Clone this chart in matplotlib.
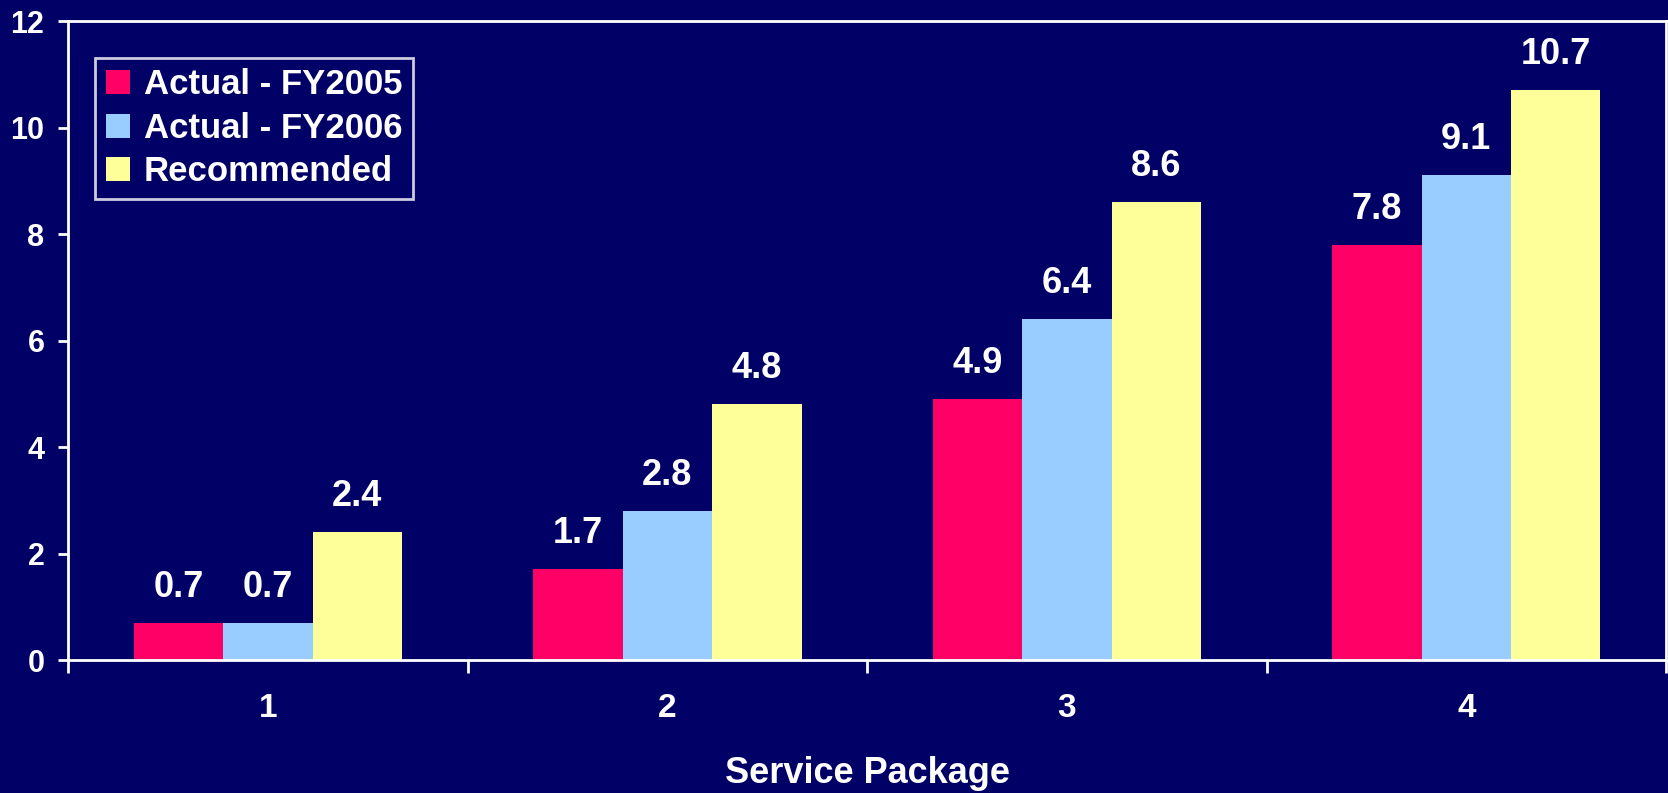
import matplotlib

matplotlib.use("Agg")

import matplotlib.pyplot as plt
import numpy as np

# data
packages = ["1", "2", "3", "4"]
series_names = ["Actual - FY2005", "Actual - FY2006", "Recommended"]
fy2005 = [0.7, 1.7, 4.9, 7.8]
fy2006 = [0.7, 2.8, 6.4, 9.1]
recommended = [2.4, 4.8, 8.6, 10.7]
y_ticks = [0, 2, 4, 6, 8, 10, 12]

NAVY = "#000066"
colors = ["#FF0066", "#99CCFF", "#FFFF99"]

plt.rcParams["font.family"] = ["Liberation Sans", "DejaVu Sans"]
plt.rcParams["font.weight"] = "bold"

fig = plt.figure(figsize=(16.68, 7.93), dpi=100, facecolor=NAVY)
ax = fig.add_axes([0.0408, 0.1677, 0.958, 0.8058], facecolor=NAVY)

x = np.arange(1, len(packages) + 1)
width = 0.224
for i, (vals, name, col) in enumerate(zip([fy2005, fy2006, recommended], series_names, colors)):
    pos = x + (i - 1) * width
    ax.bar(pos, vals, width, color=col, label=name, linewidth=0)
    for px, v in zip(pos, vals):
        ax.annotate(f"{v}", (px, v), textcoords="offset points", xytext=(0, 13),
                    ha="center", va="bottom", color="white", fontsize=26, fontweight="bold")

ax.set_xlim(0.5, 4.5)
ax.set_ylim(0, 12)
ax.set_yticks(y_ticks)
ax.set_xticks(x)
ax.set_xticklabels(packages)
ax.set_xticks(np.arange(0.5, 4.6, 1.0), minor=True)

ax.tick_params(axis="y", colors="white", labelsize=22, length=7, width=2, pad=10)
ax.tick_params(axis="x", which="major", colors="white", labelsize=24, length=0, pad=24)
ax.tick_params(axis="x", which="minor", colors="white", length=9, width=2)
for lab in ax.get_xticklabels() + ax.get_yticklabels():
    lab.set_fontweight("bold")

for s in ax.spines.values():
    s.set_color("white")
    s.set_linewidth(2)

ax.set_xlabel("Service Package", color="white", fontsize=26, fontweight="bold", va="center")
ax.xaxis.set_label_coords(0.5, -0.177)

leg = ax.legend(loc="upper left", bbox_to_anchor=(0.017, 0.942), borderaxespad=0,
                fontsize=25, frameon=True, fancybox=False, facecolor=NAVY, edgecolor="white",
                handlelength=0.7, handleheight=0.7, handletextpad=0.4,
                labelspacing=0.3, borderpad=0.3)
leg.get_frame().set_linewidth(2)
for t in leg.get_texts():
    t.set_color("white")
    t.set_fontweight("bold")

fig.savefig("out.png", dpi=100, facecolor=NAVY)
